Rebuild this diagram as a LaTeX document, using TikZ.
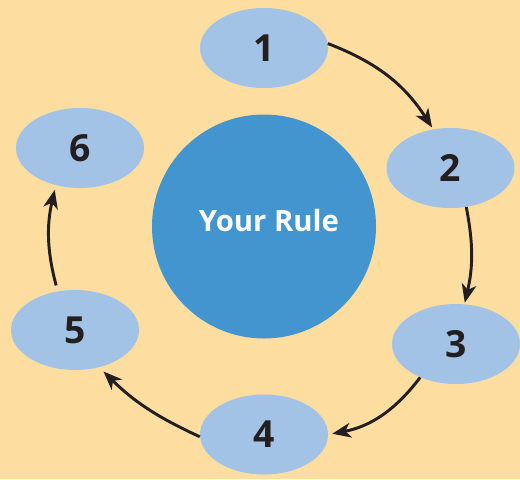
\documentclass[tikz,border=0pt]{standalone}
\usepackage{fontspec}
\setmainfont{Open Sans}
\usepackage{tikz}
\usetikzlibrary{arrows.meta,shapes.geometric}

\definecolor{bgorange}{RGB}{254,222,160}
\definecolor{steplight}{RGB}{163,195,230}
\definecolor{rulecirc}{RGB}{67,149,207}
\definecolor{numdark}{RGB}{35,31,32}

\tikzset{
  stepnode/.style={ellipse, fill=steplight, minimum width=96pt, minimum height=60pt,
    inner sep=0pt, text=numdark, font=\fontsize{28}{30}\selectfont\bfseries},
  cyclearrow/.style={draw=numdark, line width=2.2pt,
    -{Stealth[length=14pt,width=11pt,inset=4pt]}},
}

\begin{document}
\begin{tikzpicture}[x=0.75pt,y=0.75pt,yscale=-1,xscale=1]
%set diagram left start at 0, and has height of 479
\fill[bgorange] (0,0) rectangle (520,479);

%Circle
\node [circle, fill=rulecirc, minimum size=168pt, inner sep=0pt] (rule) at (264,226.5) {};
% Text Node
\node [text=white, font=\fontsize{22}{26}\selectfont\bfseries] (ruletxt) at (269,220) {Your Rule};

%Ellipses
\node [stepnode] (n1) at (264,48) {1};
\node [stepnode] (n2) at (450.5,168) {2};
\node [stepnode] (n3) at (456,344) {3};
\node [stepnode] (n4) at (264,434.5) {4};
\node [stepnode] (n5) at (75,330) {5};
\node [stepnode] (n6) at (80,148) {6};

%Curve Lines (yscale=-1 flips the bend side)
\draw [cyclearrow, shorten >=1.5pt] (n1.4) to [bend right=18] (n2.114);
\draw [cyclearrow, shorten >=1pt] (n2.-68) to [bend right=12] (n3.78);
\draw [cyclearrow, shorten >=3pt] (n3.-137) to [bend right=21] (n4.0);
\draw [cyclearrow, shorten >=4.5pt] (n4.182) to [bend right=10] (n5.-57);
\draw [cyclearrow, shorten <=4.5pt, shorten >=3.5pt] (n5.114) to [bend right=14] (n6.-123);

\end{tikzpicture}
\end{document}
